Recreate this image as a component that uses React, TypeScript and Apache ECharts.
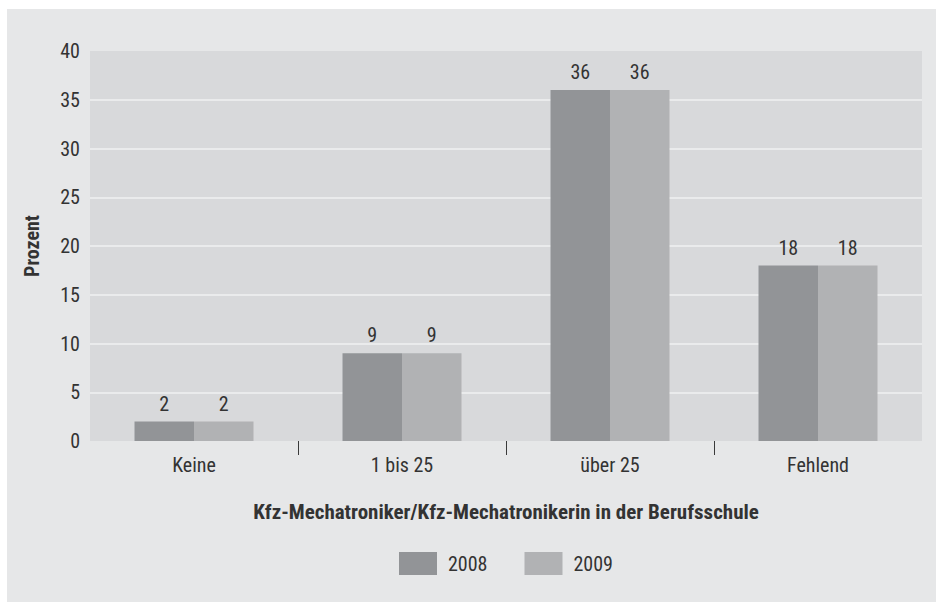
import React, { useEffect, useRef } from "react";
import * as echarts from "echarts";

const categories = ["Keine", "1 bis 25", "über 25", "Fehlend"];
const series2008 = [2, 9, 36, 18];
const series2009 = [2, 9, 36, 18];
const seriesNames = ["2008", "2009"];
const yTicks = { min: 0, max: 40, interval: 5 };
const xTitle = "Kfz-Mechatroniker/Kfz-Mechatronikerin in der Berufsschule";
const yTitle = "Prozent";
const boundaryCategories = ["b0", "b1", "b2", "b3", "b4"];

const FONT = "'Liberation Sans Narrow', 'Roboto Condensed', 'DejaVu Sans Condensed', Roboto, sans-serif";
const TEXT = "#333333";

export default function App() {
  const ref = useRef<HTMLDivElement>(null);
  useEffect(() => {
    if (!ref.current) return;
    const chart = echarts.init(ref.current, undefined, { renderer: "svg" });
    const gridColors = ["rgba(0,0,0,0)"];
    for (let i = 1; i < 8; i++) gridColors.push("#eaebec");
    gridColors.push("rgba(0,0,0,0)");
    chart.setOption({
      animation: false,
      backgroundColor: "#e6e7e8",
      textStyle: { fontFamily: FONT },
      grid: {
        left: 83,
        top: 42,
        right: 14,
        bottom: 161,
        show: true,
        backgroundColor: "#d8d9db",
        borderWidth: 0,
      },
      legend: {
        left: 387,
        top: 538,
        itemWidth: 38,
        itemHeight: 23,
        itemGap: 37,
        icon: "rect",
        textStyle: { fontSize: 20, color: TEXT, fontFamily: FONT, padding: [0, 0, 0, 6] },
        data: seriesNames,
      },
      xAxis: [
        {
          type: "category",
          data: categories,
          axisLine: { show: false },
          axisTick: { show: false },
          axisLabel: { fontSize: 20, color: TEXT, margin: 14, fontFamily: FONT },
          name: xTitle,
          nameLocation: "middle",
          nameGap: 60,
          nameTextStyle: { fontSize: 21, fontWeight: "bold", color: TEXT, fontFamily: FONT },
        },
        {
          type: "category",
          data: boundaryCategories,
          boundaryGap: false,
          position: "bottom",
          axisLine: { show: false },
          axisLabel: { show: false },
          axisTick: {
            show: true,
            length: 14,
            interval: (i: number) => i > 0 && i < boundaryCategories.length - 1,
            lineStyle: { color: "#3a3a3a", width: 1 },
          },
          splitLine: { show: false },
        },
      ],
      yAxis: {
        type: "value",
        min: yTicks.min,
        max: yTicks.max,
        interval: yTicks.interval,
        axisLine: { show: false },
        axisTick: { show: false },
        axisLabel: { fontSize: 20, color: TEXT, margin: 10, fontFamily: FONT },
        splitLine: { show: true, lineStyle: { color: gridColors, width: 2 } },
        name: yTitle,
        nameLocation: "middle",
        nameGap: 48,
        nameTextStyle: { fontSize: 20, fontWeight: "bold", color: TEXT, fontFamily: FONT },
      },
      series: [
        {
          name: seriesNames[0],
          type: "bar",
          data: series2008,
          barWidth: "28.6%",
          barGap: "0%",
          itemStyle: { color: "#929497" },
          label: { show: true, position: "top", distance: 8, fontSize: 20, color: TEXT, fontFamily: FONT },
        },
        {
          name: seriesNames[1],
          type: "bar",
          data: series2009,
          barWidth: "28.6%",
          barGap: "0%",
          itemStyle: { color: "#b1b2b4" },
          label: { show: true, position: "top", distance: 8, fontSize: 20, color: TEXT, fontFamily: FONT },
        },
      ],
    });
    return () => chart.dispose();
  }, []);
  return (
    <div style={{ position: "absolute", left: 0, top: 0, width: 936, height: 602, background: "#ffffff" }}>
      <div ref={ref} style={{ position: "absolute", left: 7, top: 9, width: 929, height: 593 }} />
    </div>
  );
}
